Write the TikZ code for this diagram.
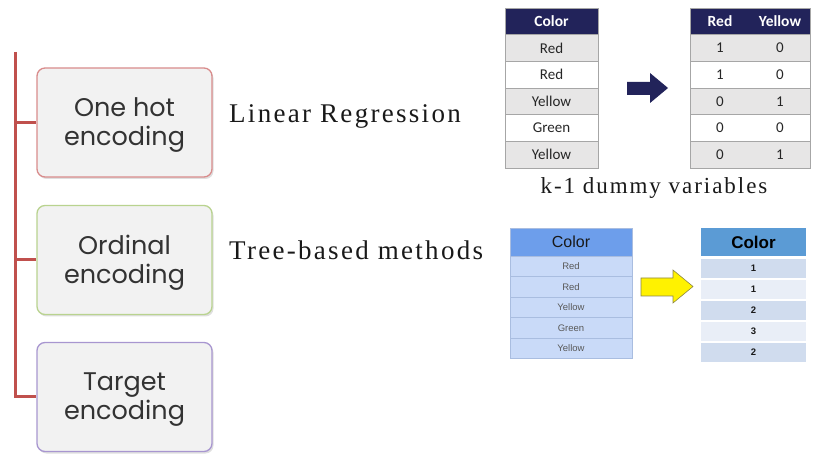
\documentclass[tikz,border=0pt]{standalone}
\usepackage{fontspec}
\setmainfont{Liberation Serif}
\newfontfamily\boxfont{Poppins}
\newfontfamily\calfont{Carlito}
\newfontfamily\arialfont{Liberation Sans}
\newfontfamily\spserif[LetterSpace=8.5]{Liberation Serif}
\usetikzlibrary{shadows}
\definecolor{treered}{HTML}{C0504D}
\definecolor{boxfill}{HTML}{F2F2F2}
\definecolor{bred}{HTML}{D98C8C}
\definecolor{bgreen}{HTML}{B9D38F}
\definecolor{bpurple}{HTML}{A896D0}
\definecolor{navy}{HTML}{22235A}
\definecolor{lgray}{HTML}{E7E6E6}
\definecolor{cgray}{HTML}{A6A6A6}
\definecolor{cblue}{HTML}{6D9EEB}
\definecolor{rblue}{HTML}{C9DAF8}
\definecolor{lineblue}{HTML}{A9BDE0}
\definecolor{sblue}{HTML}{5B9BD5}
\definecolor{rowA}{HTML}{D0DCEE}
\definecolor{rowB}{HTML}{E9EEF7}
\tikzset{
  enc/.style={draw=#1, line width=1.3pt, fill=boxfill, rounded corners=8pt,
    minimum width=175pt, minimum height=109pt,
    drop shadow={opacity=0.25, shadow xshift=1.5pt, shadow yshift=-2pt}},
  enctext/.style={align=center, inner sep=0pt,
    font=\boxfont\fontsize{25.5}{29}\selectfont, text=black!80},
  tree/.style={treered, line width=3pt},
  lbl/.style={font=\spserif\fontsize{27}{30}\selectfont, text=black!90, inner sep=0pt},
  navyhead/.style={fill=navy, draw=cgray, line width=0.6pt, text=white,
    font=\calfont\bfseries\fontsize{15.5}{17}\selectfont},
  dcell/.style={draw=cgray, line width=0.6pt, font=\calfont\fontsize{15}{17}\selectfont, text=black!85},
  bcell/.style={fill=rblue, draw=lineblue, line width=0.6pt,
    font=\arialfont\fontsize{9.5}{11}\selectfont, text=black!65},
  ocell/.style={font=\arialfont\bfseries\fontsize{9.5}{11}\selectfont, text=black!90, inner sep=0pt},
}
\begin{document}
\begin{tikzpicture}[x=1pt,y=-1pt]
\useasboundingbox (0,0) rectangle (815,465);
% encoding boxes
\node[enc=bred] (b1) at (124.5,122.5) {};
\node[enc=bgreen] (b2) at (124.5,260) {};
\node[enc=bpurple] (b3) at (124.5,397) {};
\node[enctext] (b1t) at ([yshift=-3pt]b1.center) {One hot\\encoding};
\node[enctext] (b2t) at ([yshift=-3pt]b2.center) {Ordinal\\encoding};
\node[enctext] (b3t) at ([yshift=-3pt]b3.center) {Target\\encoding};
% tree connector
\coordinate (top) at (15,52);
\draw[tree] (top) |- (b3.west);
\draw[tree] (b1.west -| top) -- (b1.west);
\draw[tree] (b2.west -| top) -- (b2.west);
% labels
\node[lbl, anchor=base west] (lr) at (229,123) {Linear Regression};
\node[lbl, anchor=base west] (tb) at (229,260) {Tree-based methods};
\node[font=\spserif\fontsize{23}{26}\selectfont, text=black!90, inner sep=0pt, anchor=base] (kd) at (654,194) {k-1 dummy variables};
% top-left table
\node[navyhead, minimum width=93pt, minimum height=26.67pt] (tlh) at (551.5,21.33) {Color};
\foreach \i/\t/\f in {1/Red/lgray,2/Red/white,3/Yellow/lgray,4/Green/white,5/Yellow/lgray}{
  \node[dcell, fill=\f, minimum width=93pt, minimum height=26.67pt] (tl\i) at (551.5,{8+26.67*(\i+0.5)}) {\t};
}
% top-right table
\node[navyhead, minimum width=120pt, minimum height=26.67pt] (trh) at (750,21.33) {};
\node[text=white, font=\calfont\bfseries\fontsize{15.5}{17}\selectfont] (trh1) at (720,21.33) {Red};
\node[text=white, font=\calfont\bfseries\fontsize{15.5}{17}\selectfont] (trh2) at (780,21.33) {Yellow};
\foreach \i/\a/\b/\f in {1/1/0/lgray,2/1/0/white,3/0/1/lgray,4/0/0/white,5/0/1/lgray}{
  \node[dcell, fill=\f, minimum width=120pt, minimum height=26.67pt] (tr\i) at (750,{8+26.67*(\i+0.5)}) {};
  \node[font=\calfont\fontsize{15}{17}\selectfont, text=black!85] (tr\i a) at (720,{8+26.67*(\i+0.5)}) {\a};
  \node[font=\calfont\fontsize{15}{17}\selectfont, text=black!85] (tr\i b) at (780,{8+26.67*(\i+0.5)}) {\b};
}
% navy arrow
\fill[navy] (627,82) -- (650,82) -- (650,73) -- (668,88) -- (650,103) -- (650,95) -- (627,95) -- cycle;
% bottom-left table
\node[fill=cblue, draw=lineblue, line width=0.6pt, minimum width=122pt, minimum height=28pt,
  font=\arialfont\fontsize{16}{18}\selectfont, text=black!90] (blh) at (571,242) {Color};
\foreach \i/\t in {1/Red,2/Red,3/Yellow,4/Green,5/Yellow}{
  \node[bcell, minimum width=122pt, minimum height=20.5pt] (bl\i) at (571,{256+20.5*(\i-0.5)}) {\t};
}
% yellow arrow
\filldraw[fill=yellow, draw=black!40!yellow!80!black, line width=0.6pt] (641,278) -- (673,278) -- (673,270) -- (693,286.5) -- (673,303) -- (673,296) -- (641,296) -- cycle;
% bottom-right table
\node[fill=sblue, minimum width=105pt, minimum height=28pt,
  font=\arialfont\bfseries\fontsize{17}{19}\selectfont, text=black] (brh) at (753.5,242) {Color};
\foreach \i/\t/\f in {1/1/rowA,2/1/rowB,3/2/rowA,4/3/rowB,5/2/rowA}{
  \node[fill=\f, minimum width=105pt, minimum height=19.5pt] (br\i) at (753.5,{268.5+21*(\i-1)}) {};
  \node[ocell] (br\i t) at (br\i) {\t};
}
\end{tikzpicture}
\end{document}
